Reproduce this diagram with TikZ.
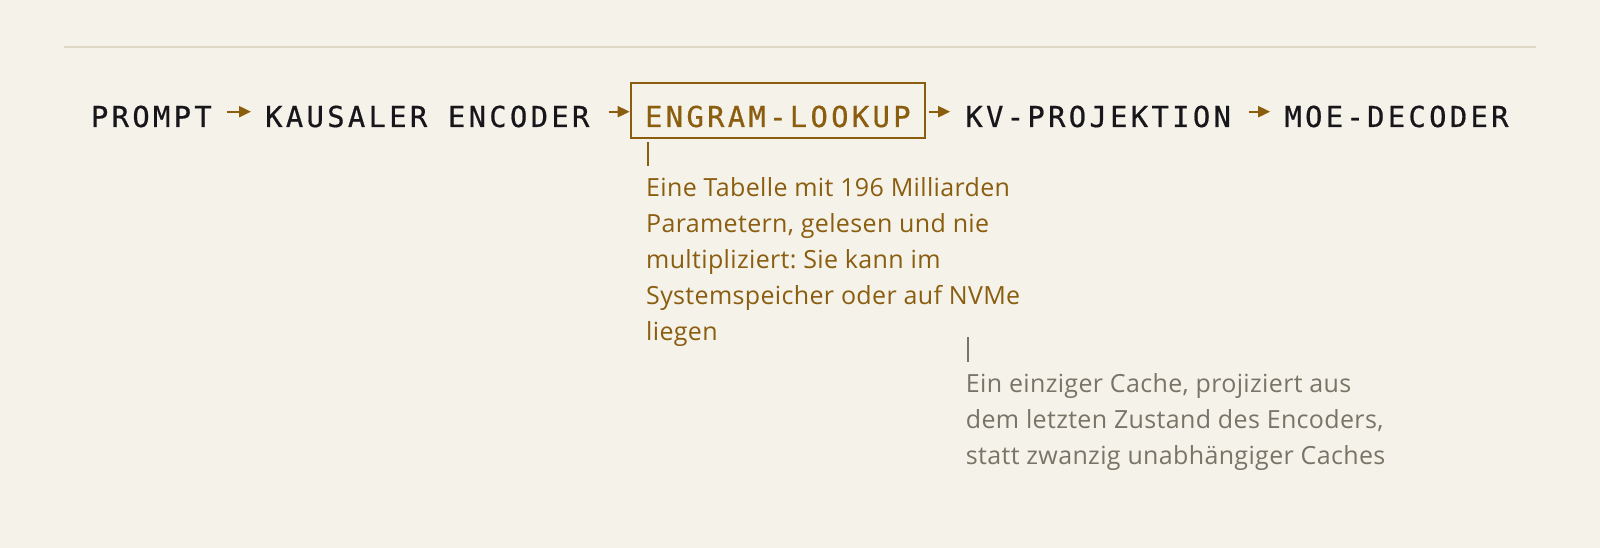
\documentclass[tikz,border=0pt]{standalone}
\usepackage{fontspec}
\usetikzlibrary{arrows.meta}
\setmainfont{Open Sans}[LetterSpace=1.4]
\newfontfamily\monof{DejaVu Sans Mono}[LetterSpace=11.6, FakeBold=0.6]
\definecolor{bgc}{HTML}{F5F2EA}
\definecolor{rulec}{HTML}{DDD7C5}
\definecolor{goldc}{HTML}{8A5D0F}
\definecolor{inkc}{HTML}{17161B}
\definecolor{grayc}{HTML}{787466}
\frenchspacing
\tikzset{
  stage/.style={inner sep=0pt, anchor=base west, text=inkc, font=\monof\fontsize{28.8}{30}\selectfont},
  flow/.style={draw=goldc, line width=2pt, -{Triangle[length=12pt,width=11pt]}},
  note/.style={inner sep=0pt, anchor=base west, align=left, font=\frenchspacing\fontsize{25}{36}\selectfont},
  tickline/.style={line width=2pt},
}
\begin{document}
\begin{tikzpicture}[x=1pt,y=1pt]
\useasboundingbox[fill=bgc] (0,0) rectangle (1600,548);
\draw[rulec, line width=2pt] (64,501.3) -- (1536,501.3);
\node[stage] (prompt) at (90.8,421) {PROMPT};
\node[stage] (kaus) at (265,421) {KAUSALER ENCODER};
\node[stage, anchor=center, draw=goldc, line width=2pt, text=goldc, text height=33pt, text depth=0pt,
      minimum width=294.3pt, minimum height=55.6pt] (engram) at (777.85,437.5) {ENGRAM-LOOKUP};
\node[stage] (kv) at (965.2,421) {KV-PROJEKTION};
\node[stage] (moe) at (1284.2,421) {MOE-DECODER};
\coordinate (ay) at (0,436.3);
\draw[flow, shorten <=15pt, shorten >=14pt] (prompt.east |- ay) -- (kaus.west |- ay);
\draw[flow, shorten <=19pt, shorten >=0pt] (kaus.east |- ay) -- (engram.west |- ay);
\draw[flow, shorten <=3pt, shorten >=15pt] (engram.east |- ay) -- (kv.west |- ay);
\draw[flow, shorten <=18pt, shorten >=14pt] (kv.east |- ay) -- (moe.west |- ay);
\coordinate (t1a) at (647.7,405.7);
\coordinate (t1b) at (647.7,382);
\draw[tickline, goldc] (t1a) -- (t1b);
\node[note, text=goldc] (goldnote) at (646,207.3) {Eine Tabelle mit 196 Milliarden\\Parametern, gelesen und nie\\multipliziert: Sie kann im\\Systemspeicher oder auf NVMe\\liegen};
\coordinate (t2a) at (967.7,210.7);
\coordinate (t2b) at (967.7,185.7);
\draw[tickline, grayc, line width=1.6pt] (t2a) -- (t2b);
\node[note, text=grayc] (graynote) at (965.7,83.7) {Ein einziger Cache, projiziert aus\\dem letzten Zustand des Encoders,\\statt zwanzig unabhängiger Caches};
\end{tikzpicture}
\end{document}
